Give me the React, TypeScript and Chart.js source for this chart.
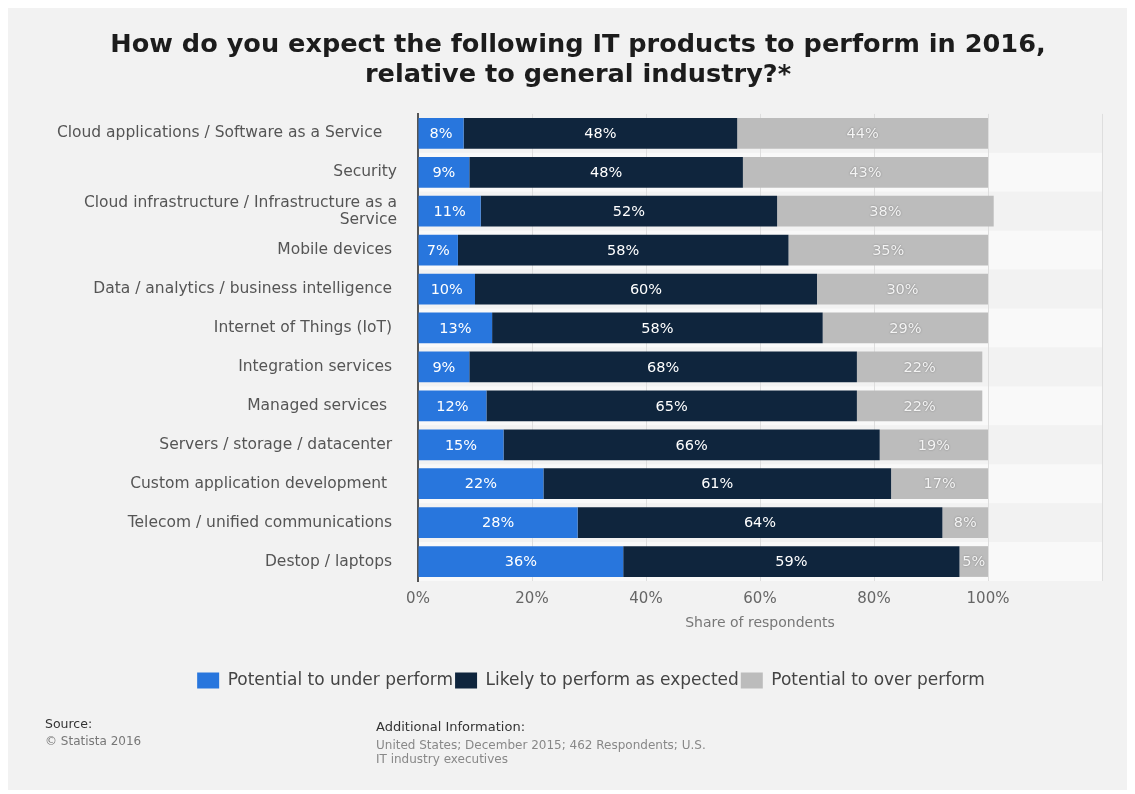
import React, { useEffect, useRef } from 'react';
import { Chart, registerables } from 'chart.js';

Chart.register(...registerables);

const categories: (string | string[])[] = [
  'Cloud applications / Software as a Service   ',
  'Security',
  ['Cloud infrastructure / Infrastructure as a', 'Service'],
  'Mobile devices ',
  'Data / analytics / business intelligence ',
  'Internet of Things (IoT) ',
  'Integration services ',
  'Managed services  ',
  'Servers / storage / datacenter ',
  'Custom application development  ',
  'Telecom / unified communications ',
  'Destop / laptops ',
];

const underPerform = [8, 9, 11, 7, 10, 13, 9, 12, 15, 22, 28, 36];
const asExpected = [48, 48, 52, 58, 60, 58, 68, 65, 66, 61, 64, 59];
const overPerform = [44, 43, 38, 35, 30, 29, 22, 22, 19, 17, 8, 5];

const seriesNames = [
  'Potential to under perform',
  'Likely to perform as expected',
  'Potential to over perform',
];
const seriesColors = ['#2876dd', '#0f253d', '#bcbcbc'];
const labelColors = ['#ffffff', '#ffffff', '#f4f4f4'];

const titleLines = [
  'How do you expect the following IT products to perform in 2016,',
  'relative to general industry?*',
];
const axisTitle = 'Share of respondents';
const sourceLines = ['Source:', '© Statista 2016'];
const infoLines = [
  'Additional Information:',
  'United States; December 2015; 462 Respondents; U.S.',
  'IT industry executives',
];

const W = 1119;
const H = 782;
const FONT = '"DejaVu Sans", sans-serif';

const bandPlugin = {
  id: 'bands',
  beforeDraw(chart: any) {
    const { ctx, chartArea, scales } = chart;
    const y = scales.y;
    const n = categories.length;
    const step = (chartArea.bottom - chartArea.top) / n;
    ctx.save();
    for (let i = 0; i < n; i++) {
      const c = y.getPixelForValue(i);
      ctx.fillStyle = i % 2 === 0 ? '#f2f2f2' : '#f9f9f9';
      ctx.fillRect(chartArea.left, c - step / 2, chartArea.right - chartArea.left, step);
    }
    ctx.restore();
  },
};

const legendShiftPlugin = {
  id: 'legendShift',
  afterLayout(chart: any) {
    const lg = chart.legend;
    if (lg) {
      lg.left += 13;
      lg.right += 13;
    }
  },
};

const valueLabelPlugin = {
  id: 'valueLabels',
  afterDatasetsDraw(chart: any) {
    const { ctx } = chart;
    ctx.save();
    ctx.font = `14.5px ${FONT}`;
    ctx.textAlign = 'center';
    ctx.textBaseline = 'middle';
    chart.data.datasets.forEach((ds: any, di: number) => {
      const meta = chart.getDatasetMeta(di);
      meta.data.forEach((el: any, i: number) => {
        const v = ds.data[i];
        const cx = (el.x + el.base) / 2;
        if (di === 2) {
          ctx.shadowColor = 'rgba(0,0,0,0.35)';
          ctx.shadowBlur = 2;
        } else {
          ctx.shadowColor = 'transparent';
          ctx.shadowBlur = 0;
        }
        ctx.fillStyle = labelColors[di];
        ctx.fillText(`${v}%`, cx, el.y + 1);
      });
    });
    ctx.restore();
  },
};

const footerPlugin = {
  id: 'footer',
  afterDraw(chart: any) {
    const { ctx } = chart;
    ctx.save();
    ctx.textAlign = 'left';
    ctx.textBaseline = 'middle';
    ctx.font = `12.5px ${FONT}`;
    ctx.fillStyle = '#333333';
    ctx.fillText(sourceLines[0], 37, 717);
    ctx.font = `12px ${FONT}`;
    ctx.fillStyle = '#777777';
    ctx.fillText(sourceLines[1], 37, 734);
    ctx.font = `13px ${FONT}`;
    ctx.fillStyle = '#333333';
    ctx.fillText(infoLines[0], 368, 720);
    ctx.font = `12px ${FONT}`;
    ctx.fillStyle = '#888888';
    ctx.fillText(infoLines[1], 368, 738);
    ctx.fillText(infoLines[2], 368, 752);
    ctx.restore();
  },
};

export default function App() {
  const ref = useRef<HTMLCanvasElement>(null);

  useEffect(() => {
    if (!ref.current) return;
    const chart = new Chart(ref.current, {
      type: 'bar',
      data: {
        labels: categories,
        datasets: [underPerform, asExpected, overPerform].map((d, i) => ({
          label: seriesNames[i],
          data: d,
          backgroundColor: seriesColors[i],
          borderWidth: 0,
          barPercentage: 0.79,
          categoryPercentage: 1,
        })),
      },
      options: {
        indexAxis: 'y',
        responsive: false,
        animation: false,
        layout: { padding: { left: 46, right: 25, top: 0, bottom: 91 } },
        plugins: {
          tooltip: { enabled: false },
          title: {
            display: true,
            text: titleLines,
            color: '#1c1c1c',
            font: { family: FONT, size: 25.6, weight: 'bold', lineHeight: 1.17 },
            padding: { top: 22, bottom: 24 },
          },
          legend: {
            position: 'bottom',
            labels: {
              boxWidth: 22,
              boxHeight: 16,
              padding: 2,
              color: '#444444',
              font: { family: FONT, size: 17 },
            },
          },
        },
        scales: {
          x: {
            stacked: true,
            min: 0,
            max: 120,
            afterFit: (s: any) => {
              s.height = 89;
            },
            border: { display: false },
            grid: { color: '#dedede', drawTicks: false },
            ticks: {
              stepSize: 20,
              padding: 9,
              color: '#666666',
              font: { family: FONT, size: 15 },
              callback: (v: any) => (Number(v) <= 100 ? `${v}%` : ''),
            },
            title: {
              display: true,
              text: axisTitle,
              color: '#777777',
              font: { family: FONT, size: 14 },
              padding: { top: 4, bottom: 38 },
            },
          },
          y: {
            stacked: true,
            afterFit: (s: any) => {
              s.width = 364;
            },
            border: { display: true, color: '#555555', width: 2 },
            grid: { display: false, drawTicks: false },
            ticks: {
              padding: 21,
              color: '#555555',
              font: { family: FONT, size: 15.5, lineHeight: 1.1 },
            },
          },
        },
      },
      plugins: [bandPlugin, legendShiftPlugin, valueLabelPlugin, footerPlugin],
    } as any);
    return () => chart.destroy();
  }, []);

  return (
    <div style={{ width: W, height: H, background: '#f2f2f2', position: 'relative' }}>
      <canvas ref={ref} width={W} height={H} style={{ width: W, height: H, display: 'block' }} />
    </div>
  );
}
